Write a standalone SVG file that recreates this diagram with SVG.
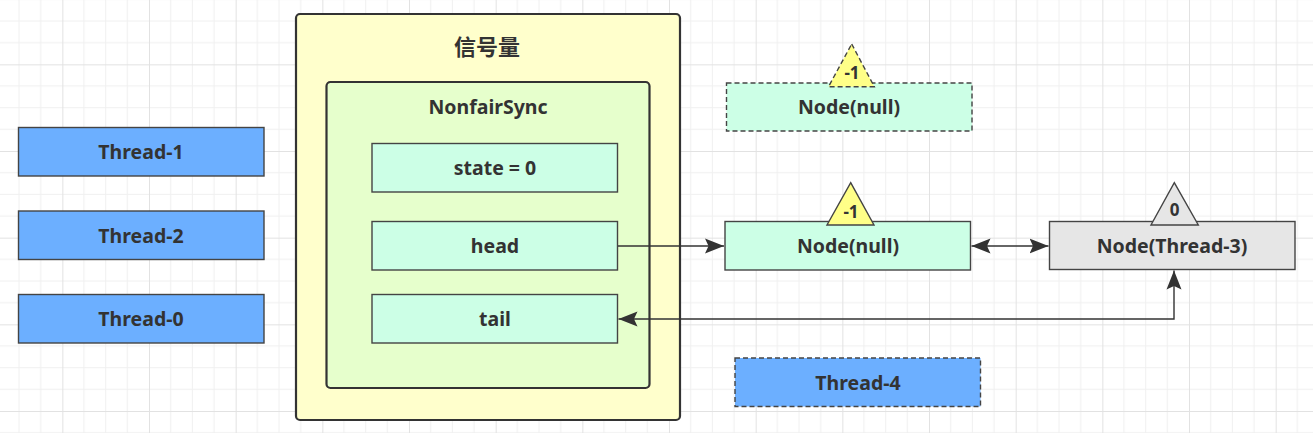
<svg xmlns="http://www.w3.org/2000/svg" width="1313" height="433" viewBox="0 0 1313 433">
<defs>
<pattern id="grid" patternUnits="userSpaceOnUse" x="-24.33" y="-22.33" width="86.667" height="86.667">
<path d="M21.667,0V86.667M43.333,0V86.667M65,0V86.667M0,21.667H86.667M0,43.333H86.667M0,65H86.667" stroke="#f0f0f0" stroke-width="1" fill="none"/>
<path d="M0.5,0V86.667M0,0.5H86.667" stroke="#e2e2e2" stroke-width="1" fill="none"/>
</pattern>
<marker id="arr" markerUnits="userSpaceOnUse" markerWidth="20" markerHeight="16" refX="19" refY="8" orient="auto-start-reverse">
<path d="M0,0.5 L19,8 L0,15.5 L3.5,8 Z" fill="#333"/>
</marker>
</defs>
<style>
.lbl{font-family:"Noto Sans","Open Sans","Noto Sans CJK SC",sans-serif;font-weight:bold;font-size:19.5px;fill:#333;text-anchor:middle}
.tri{font-size:17px}
.title{font-size:22px}
.box{stroke:#444;stroke-width:1.4}
.cont{stroke:#333;stroke-width:2.2}
.mint{fill:#CCFFE6}
.blue{fill:#6CAFFF}
.dash{stroke-dasharray:5 3}
.conn{stroke:#333;stroke-width:1.4;fill:none}
</style>
<rect width="1313" height="433" fill="#ffffff"/>
<rect width="1313" height="433" fill="url(#grid)"/>

<g id="semaphore">
<rect class="cont" x="296" y="14" width="384" height="406" rx="4" fill="#FFFFCC"/>
<text class="lbl title" x="487" y="55">信号量</text>
</g>
<g id="nonfairsync">
<rect class="cont" x="326.5" y="82" width="323" height="306" rx="4" fill="#E6FFCC"/>
<text class="lbl" x="488" y="114">NonfairSync</text>
</g>
<g id="state">
<rect class="box mint" x="372" y="143.5" width="245.5" height="48.5"/>
<text class="lbl" x="495" y="175">state = 0</text>
</g>
<g id="head">
<rect class="box mint" x="372" y="221.5" width="245.5" height="48.5"/>
<text class="lbl" x="495" y="253">head</text>
</g>
<g id="tail">
<rect class="box mint" x="372" y="294.5" width="245.5" height="48.5"/>
<text class="lbl" x="495" y="326">tail</text>
</g>

<g id="thread1">
<rect class="box blue" x="18.5" y="127.5" width="245.5" height="48.5"/>
<text class="lbl" x="141" y="159">Thread-1</text>
</g>
<g id="thread2">
<rect class="box blue" x="18.5" y="211" width="245.5" height="48.5"/>
<text class="lbl" x="141" y="242.5">Thread-2</text>
</g>
<g id="thread0">
<rect class="box blue" x="18.5" y="294.5" width="245.5" height="48.5"/>
<text class="lbl" x="141" y="326">Thread-0</text>
</g>
<g id="thread4">
<rect class="box blue dash" x="735" y="358" width="245.5" height="48.5"/>
<text class="lbl" x="858" y="389.5">Thread-4</text>
</g>

<g id="node-null-old">
<rect class="box mint dash" x="726.5" y="83" width="245.5" height="48"/>
<polygon class="box dash" points="851.7,44 874.3,86.7 828.5,86.7" fill="#FFFF88"/>
<text class="lbl tri" x="852" y="79">-1</text>
<text class="lbl" x="849" y="114">Node(null)</text>
</g>
<g id="node-null">
<rect class="box mint" x="725" y="221.5" width="245.5" height="48.5"/>
<polygon class="box" points="850.7,182.7 874,225 827,225" fill="#FFFF88"/>
<text class="lbl tri" x="851" y="217.5">-1</text>
<text class="lbl" x="848" y="253">Node(null)</text>
</g>
<g id="node-thread3">
<rect class="box" x="1049.5" y="221.5" width="245.5" height="48" fill="#E6E6E6"/>
<polygon class="box" points="1174.3,182.7 1198.3,225 1151,225" fill="#E6E6E6"/>
<text class="lbl tri" x="1174.5" y="216">0</text>
<text class="lbl" x="1172" y="253">Node(Thread-3)</text>
</g>

<g id="connectors">
<path class="conn" d="M618,246 H724" marker-end="url(#arr)"/>
<path class="conn" d="M971.5,246 H1048.5" marker-start="url(#arr)" marker-end="url(#arr)"/>
<path class="conn" d="M1174,270.5 V319 H618.5" marker-start="url(#arr)" marker-end="url(#arr)"/>
</g>
</svg>
